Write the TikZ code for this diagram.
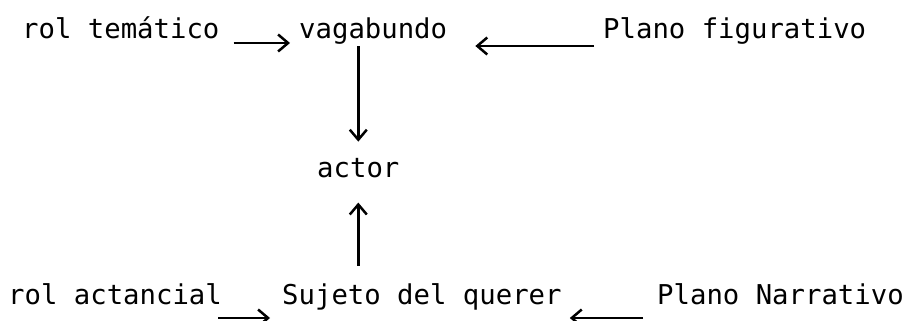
\documentclass[tikz,border=0pt]{standalone}
\usepackage{fontspec}
\setmonofont{DejaVu Sans Mono}
\usetikzlibrary{arrows.meta,calc}
\tikzset{
  lbl/.style={inner sep=0pt, anchor=base west, font=\ttfamily\fontsize{27.3}{30}\selectfont},
  arr/.style={line width=2.5pt, -{Straight Barb[length=10pt,width=17pt,line width=2.5pt]}}
}
\begin{document}
\begin{tikzpicture}[x=1pt,y=1pt]
\useasboundingbox (0,0) rectangle (905,321);
\node[lbl] (rt)  at (22,282)  {rol temático};
\node[lbl] (vag) at (299,282) {vagabundo};
\node[lbl] (pf)  at (603,282) {Plano figurativo};
\node[lbl] (act) at (317,143) {actor};
\node[lbl] (ra)  at (8,16)    {rol actancial};
\node[lbl] (suj) at (282,16)  {Sujeto del querer};
\node[lbl] (pn)  at (657,16)  {Plano Narrativo};
% row 1
\draw[arr] ([xshift=14pt,yshift=-4pt]rt.base east) -- ([xshift=-9pt,yshift=-4pt]vag.base west);
\draw[arr] ([xshift=-9pt,yshift=-7pt]pf.base west) -- ([xshift=28pt,yshift=-7pt]vag.base east);
% vertical
\draw[arr] ($(vag.south -| act.north)+(0,-1pt)$) -- ($(act.north)+(0,17pt)$);
\draw[arr] ($(suj.north -| act.south)+(0,18pt)$) -- ($(act.south)+(0,-24pt)$);
% row 3
\draw[arr] ([xshift=-4pt,yshift=-13pt]ra.base east) -- ([xshift=-12pt,yshift=-13pt]suj.base west);
\draw[arr] ([xshift=-14pt,yshift=-13pt]pn.base west) -- ([xshift=8pt,yshift=-13pt]suj.base east);
\end{tikzpicture}
\end{document}
